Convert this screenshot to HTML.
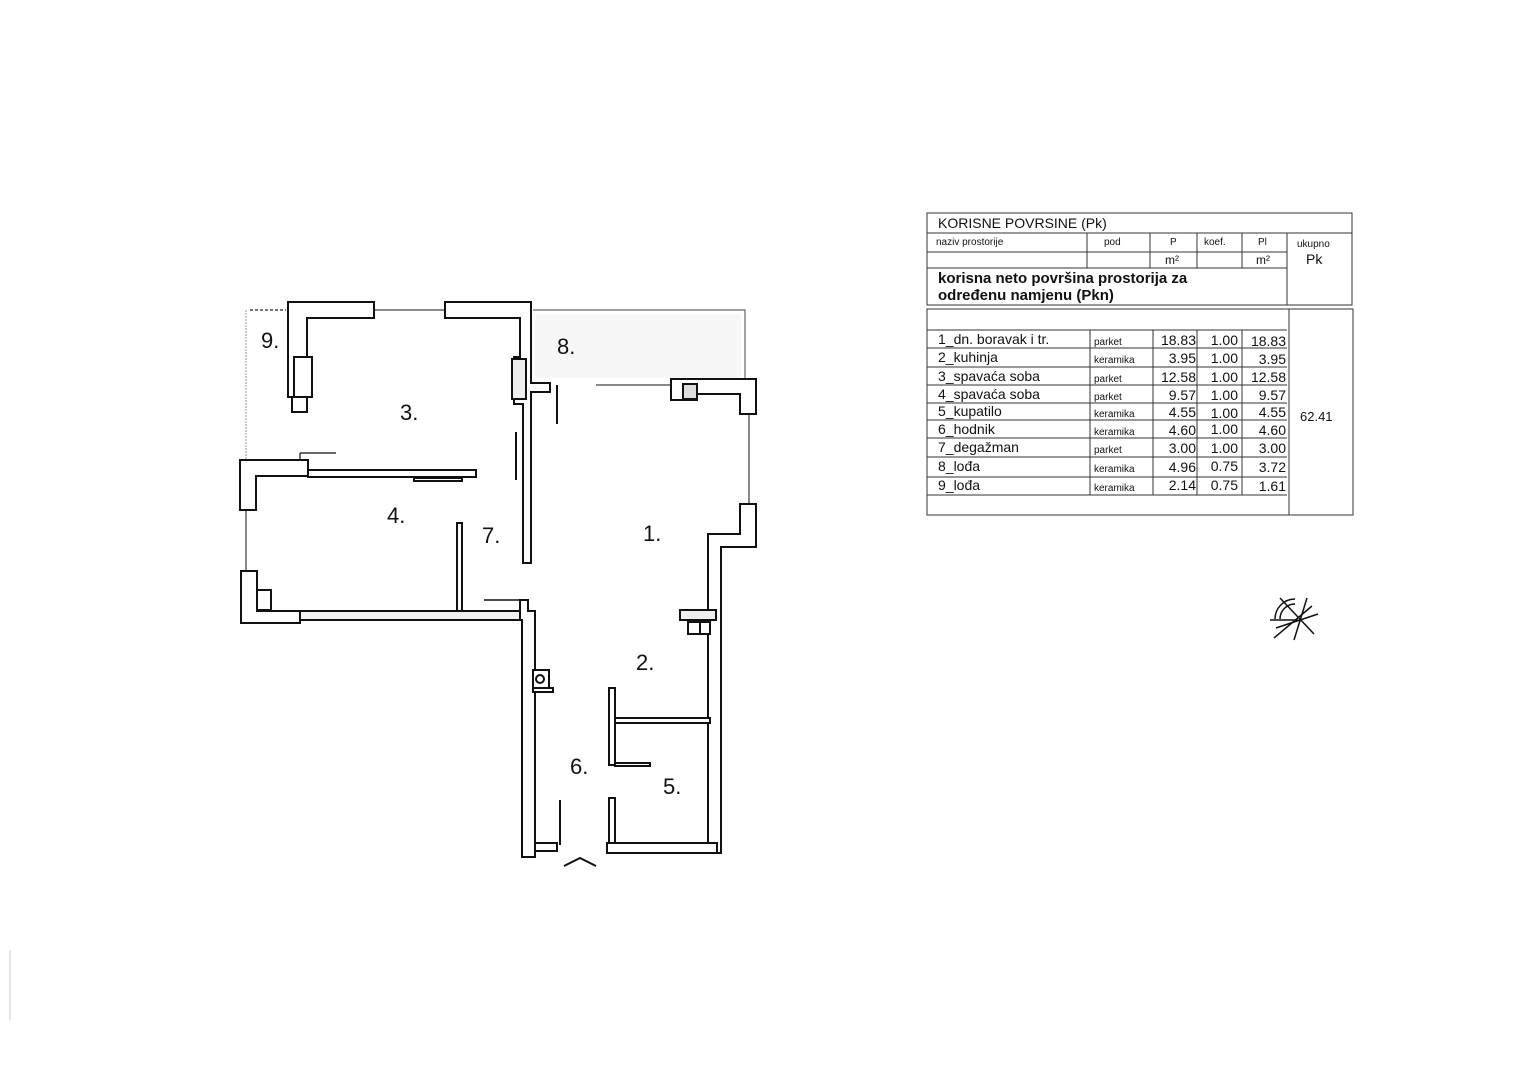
<!DOCTYPE html>
<html><head><meta charset="utf-8"><style>
html,body{margin:0;padding:0;background:#fff;}
svg{display:block;}
text{font-family:"Liberation Sans","DejaVu Sans",sans-serif;fill:#111;}
</style></head><body>
<svg width="1528" height="1080" viewBox="0 0 1528 1080" xmlns="http://www.w3.org/2000/svg">
<rect width="1528" height="1080" fill="#fff"/>
<rect x="535" y="314" width="206" height="64" fill="#000" opacity="0.03"/>
<g fill="#fff" stroke="#111" stroke-width="2" stroke-linejoin="miter">
<line x1="246" y1="310" x2="246" y2="460" stroke="#999" stroke-width="1" stroke-dasharray="2,1"/>
<line x1="250" y1="310" x2="286" y2="310" stroke="#777" stroke-width="2" stroke-dasharray="3,2"/>
<polygon points="288,302 374,302 374,318 307,318 307,357 312,357 312,397 307,397 307,412 292,412 292,397 288,397"/>
<rect x="294" y="357" width="18" height="40"/>
<line x1="374" y1="310" x2="445" y2="310" stroke-width="1"/>
<polygon points="445,302 531,302 531,383 550,383 550,392 531,392 531,563 523,563 523,404 514,404 514,357 520,357 520,318 445,318"/>
<rect x="512" y="359" width="14" height="40" fill="#eee"/>
<line x1="557" y1="385" x2="557" y2="424"/>
<line x1="516" y1="432" x2="516" y2="480"/>
<polyline points="533,310 745,310 745,380" fill="none" stroke="#666" stroke-width="1.2"/>
<line x1="596" y1="385" x2="672" y2="385" stroke-width="1"/>
<polygon points="671,379 756,379 756,414 740,414 740,394 697,394 697,400 671,400"/>
<rect x="683" y="384" width="14" height="15" fill="#ddd"/>
<line x1="749" y1="414" x2="749" y2="504" stroke-width="1"/>
<polygon points="740,504 756,504 756,547 721,547 721,853 708,853 708,534 740,534"/>
<rect x="680" y="610" width="36" height="10" fill="#eee"/>
<rect x="688" y="622" width="12" height="12"/>
<rect x="700" y="622" width="10" height="12"/>
<polygon points="240,460 308,460 308,476 256,476 256,510 240,510"/>
<line x1="300" y1="460" x2="300" y2="453" stroke-width="1.2"/>
<line x1="300" y1="453" x2="336" y2="453" stroke-width="1.2"/>
<rect x="308" y="470" width="168" height="7"/>
<rect x="414" y="478" width="48" height="3"/>
<line x1="246" y1="510" x2="246" y2="571" stroke-width="1"/>
<polygon points="241,571 257,571 257,611 300,611 300,623 241,623"/>
<rect x="257" y="590" width="14" height="20"/>
<rect x="300" y="611" width="228" height="9" fill="#f2f2f2"/>
<rect x="457" y="523" width="5" height="88"/>
<polygon points="520,600 528,600 528,611 535,611 535,857 522,857 522,620 520,620"/>
<line x1="484" y1="600" x2="526" y2="600" stroke-width="1.4"/>
<rect x="533" y="670" width="16" height="18"/>
<circle cx="540" cy="679" r="4"/>
<rect x="533" y="688" width="20" height="4"/>
<line x1="560" y1="800" x2="560" y2="845"/>
<rect x="535" y="843" width="22" height="8"/>
<rect x="609" y="688" width="6" height="77"/>
<rect x="615" y="718" width="95" height="5"/>
<rect x="615" y="763" width="35" height="3"/>
<rect x="609" y="798" width="6" height="46"/>
<rect x="607" y="843" width="110" height="10"/>
<polyline points="564,866 580,858 596,866" fill="none" stroke-width="2"/>
</g>
<g font-size="22">
<text x="261" y="348">9.</text>
<text x="557" y="354">8.</text>
<text x="400" y="420">3.</text>
<text x="387" y="523">4.</text>
<text x="482" y="543">7.</text>
<text x="643" y="541">1.</text>
<text x="636" y="670">2.</text>
<text x="570" y="774">6.</text>
<text x="663" y="794">5.</text>
</g>
<g stroke="#111" stroke-width="1.5" fill="none">
<line x1="1276" y1="628" x2="1318" y2="614"/>
<line x1="1280" y1="598" x2="1314" y2="634"/>
<line x1="1294" y1="640" x2="1307" y2="598"/>
<line x1="1274" y1="638" x2="1312" y2="606"/>
<line x1="1270" y1="620" x2="1298" y2="620"/>
<path d="M1275,619 A20,20 0 0 1 1295,599"/>
<path d="M1280,619 A15,15 0 0 1 1295,604"/>
</g>
<g stroke="#333" stroke-width="1" fill="none">
<rect x="927" y="213" width="425" height="92"/>
<line x1="927" y1="233" x2="1352" y2="233"/>
<line x1="927" y1="252" x2="1287" y2="252"/>
<line x1="927" y1="268" x2="1287" y2="268"/>
<line x1="1087" y1="233" x2="1087" y2="268"/>
<line x1="1150" y1="233" x2="1150" y2="268"/>
<line x1="1197" y1="233" x2="1197" y2="268"/>
<line x1="1242" y1="233" x2="1242" y2="268"/>
<line x1="1287" y1="233" x2="1287" y2="305"/>
<rect x="927" y="309" width="426" height="206"/>
<line x1="927" y1="330" x2="1287" y2="330"/>
<line x1="927" y1="348" x2="1287" y2="348"/>
<line x1="927" y1="367" x2="1287" y2="367"/>
<line x1="927" y1="385" x2="1287" y2="385"/>
<line x1="927" y1="403" x2="1287" y2="403"/>
<line x1="927" y1="420" x2="1287" y2="420"/>
<line x1="927" y1="438" x2="1287" y2="438"/>
<line x1="927" y1="457" x2="1287" y2="457"/>
<line x1="927" y1="477" x2="1287" y2="477"/>
<line x1="927" y1="495" x2="1287" y2="495"/>
<line x1="1090" y1="330" x2="1090" y2="495"/>
<line x1="1153" y1="330" x2="1153" y2="495"/>
<line x1="1197" y1="330" x2="1197" y2="495"/>
<line x1="1242" y1="330" x2="1242" y2="495"/>
<line x1="1289" y1="309" x2="1289" y2="515"/>
</g>
<text x="938" y="228" font-size="14">KORISNE POVRSINE (Pk)</text>
<g font-size="10" fill="#555">
<text x="936" y="245">naziv prostorije</text>
<text x="1104" y="245">pod</text>
<text x="1170" y="245">P</text>
<text x="1204" y="245">koef.</text>
<text x="1258" y="245">Pl</text>
<text x="1297" y="247">ukupno</text>
</g>
<text x="1165" y="264" font-size="12">m²</text>
<text x="1256" y="264" font-size="12">m²</text>
<text x="1306" y="264" font-size="14">Pk</text>
<text x="938" y="283" font-size="15" font-weight="bold">korisna neto površina prostorija za</text>
<text x="938" y="300" font-size="15" font-weight="bold">određenu namjenu (Pkn)</text>
<g font-size="14">
<text x="938" y="344">1_dn. boravak i tr.</text>
<text x="938" y="362">2_kuhinja</text>
<text x="938" y="381">3_spavaća soba</text>
<text x="938" y="399">4_spavaća soba</text>
<text x="938" y="416">5_kupatilo</text>
<text x="938" y="434">6_hodnik</text>
<text x="938" y="452">7_degažman</text>
<text x="938" y="471">8_lođa</text>
<text x="938" y="490">9_lođa</text>
</g>
<g font-size="10" fill="#444">
<text x="1094" y="345">parket</text>
<text x="1094" y="363">keramika</text>
<text x="1094" y="382">parket</text>
<text x="1094" y="400">parket</text>
<text x="1094" y="417">keramika</text>
<text x="1094" y="435">keramika</text>
<text x="1094" y="453">parket</text>
<text x="1094" y="472">keramika</text>
<text x="1094" y="491">keramika</text>
</g>
<g font-size="14" text-anchor="end">
<text x="1196" y="345">18.83</text><text x="1238" y="345">1.00</text><text x="1286" y="346">18.83</text>
<text x="1196" y="363">3.95</text><text x="1238" y="363">1.00</text><text x="1286" y="364">3.95</text>
<text x="1196" y="382">12.58</text><text x="1238" y="382">1.00</text><text x="1286" y="382">12.58</text>
<text x="1196" y="400">9.57</text><text x="1238" y="400">1.00</text><text x="1286" y="400">9.57</text>
<text x="1196" y="417">4.55</text><text x="1238" y="418">1.00</text><text x="1286" y="417">4.55</text>
<text x="1196" y="435">4.60</text><text x="1238" y="434">1.00</text><text x="1286" y="435">4.60</text>
<text x="1196" y="453">3.00</text><text x="1238" y="453">1.00</text><text x="1286" y="453">3.00</text>
<text x="1196" y="472">4.96</text><text x="1238" y="471">0.75</text><text x="1286" y="472">3.72</text>
<text x="1196" y="490">2.14</text><text x="1238" y="490">0.75</text><text x="1286" y="491">1.61</text>
</g>
<text x="1300" y="421" font-size="13">62.41</text>
<line x1="10" y1="950" x2="10" y2="1020" stroke="#ccc" stroke-width="1"/>
</svg>
</body></html>
